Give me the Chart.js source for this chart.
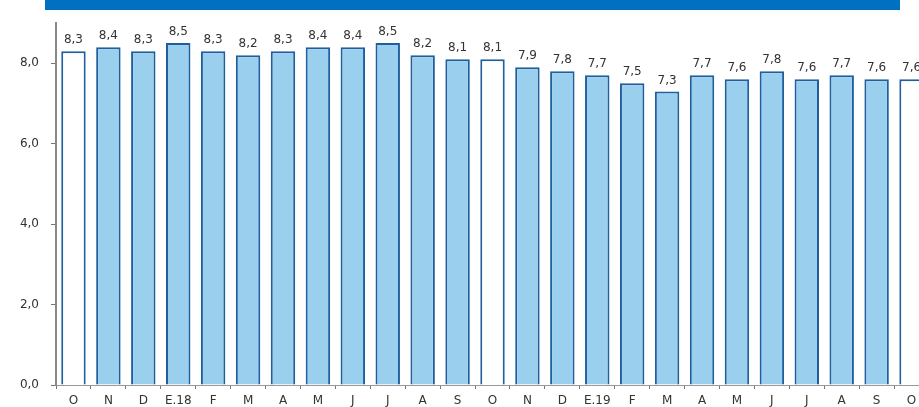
<!DOCTYPE html>
<html>
<head>
  <title>Tasa mensual</title>
  <script src="https://cdn.jsdelivr.net/npm/chart.js"></script>
  <style>
    body {
      margin: 0;
      background: #fff;
      overflow: hidden;
      width: 919px;
      height: 407px;
      position: relative;
    }
    #header {
      position: absolute;
      left: 45px;
      top: 0;
      width: 855px;
      height: 10px;
      background: #0070c0;
    }
    #chart-wrapper {
      position: absolute;
      left: 0;
      top: 0;
      width: 929px;
      height: 407px;
    }
  </style>
</head>
<body>
  <div id="header"></div>
  <div id="chart-wrapper">
    <canvas id="chart"></canvas>
  </div>

  <script>
    const months = ['O', 'N', 'D', 'E.18', 'F', 'M', 'A', 'M', 'J', 'J', 'A', 'S',
                    'O', 'N', 'D', 'E.19', 'F', 'M', 'A', 'M', 'J', 'J', 'A', 'S', 'O'];
    const values = [8.3, 8.4, 8.3, 8.5, 8.3, 8.2, 8.3, 8.4, 8.4, 8.5, 8.2, 8.1,
                    8.1, 7.9, 7.8, 7.7, 7.5, 7.3, 7.7, 7.6, 7.8, 7.6, 7.7, 7.6, 7.6];
    const yTicks = [0, 2, 4, 6, 8];

    const fills = months.map(m => m === 'O' ? '#ffffff' : '#9bcfee');

    const valueLabels = {
      id: 'valueLabels',
      afterDatasetsDraw(chart) {
        const ctx = chart.ctx;
        const meta = chart.getDatasetMeta(0);
        ctx.save();
        ctx.font = '12px "DejaVu Sans"';
        ctx.fillStyle = '#333';
        ctx.textAlign = 'center';
        ctx.textBaseline = 'bottom';
        meta.data.forEach((bar, i) => {
          ctx.fillText(values[i].toFixed(1).replace('.', ','), bar.x, bar.y - 5);
        });
        ctx.restore();
      }
    };

    new Chart(document.getElementById('chart'), {
      type: 'bar',
      data: {
        labels: months,
        datasets: [{
          data: values,
          backgroundColor: fills,
          borderColor: '#1f5f9e',
          borderWidth: 2,
          categoryPercentage: 1,
          barPercentage: 0.7
        }]
      },
      options: {
        responsive: true,
        maintainAspectRatio: false,
        animation: false,
        layout: { padding: { top: 23, left: 0, right: 0, bottom: 0 } },
        plugins: { legend: { display: false }, tooltip: { enabled: false } },
        scales: {
          x: {
            grid: { drawOnChartArea: false, tickLength: 4, color: '#777', offset: true },
            border: { color: '#999', width: 1 },
            ticks: { color: '#333', font: { family: 'DejaVu Sans', size: 12 }, padding: 5, maxRotation: 0, autoSkip: false },
            afterFit(scale) { scale.height = 22; }
          },
          y: {
            min: 0,
            max: 9,
            afterBuildTicks(scale) { scale.ticks = yTicks.map(v => ({ value: v })); },
            grid: { drawOnChartArea: false, tickLength: 5, color: '#777' },
            border: { color: '#888', width: 2 },
            ticks: {
              color: '#333',
              font: { family: 'DejaVu Sans', size: 12 },
              padding: 12,
              callback: v => v.toFixed(1).replace('.', ',')
            },
            afterFit(scale) { scale.width = 56; }
          }
        }
      },
      plugins: [valueLabels]
    });
  </script>
</body>
</html>
